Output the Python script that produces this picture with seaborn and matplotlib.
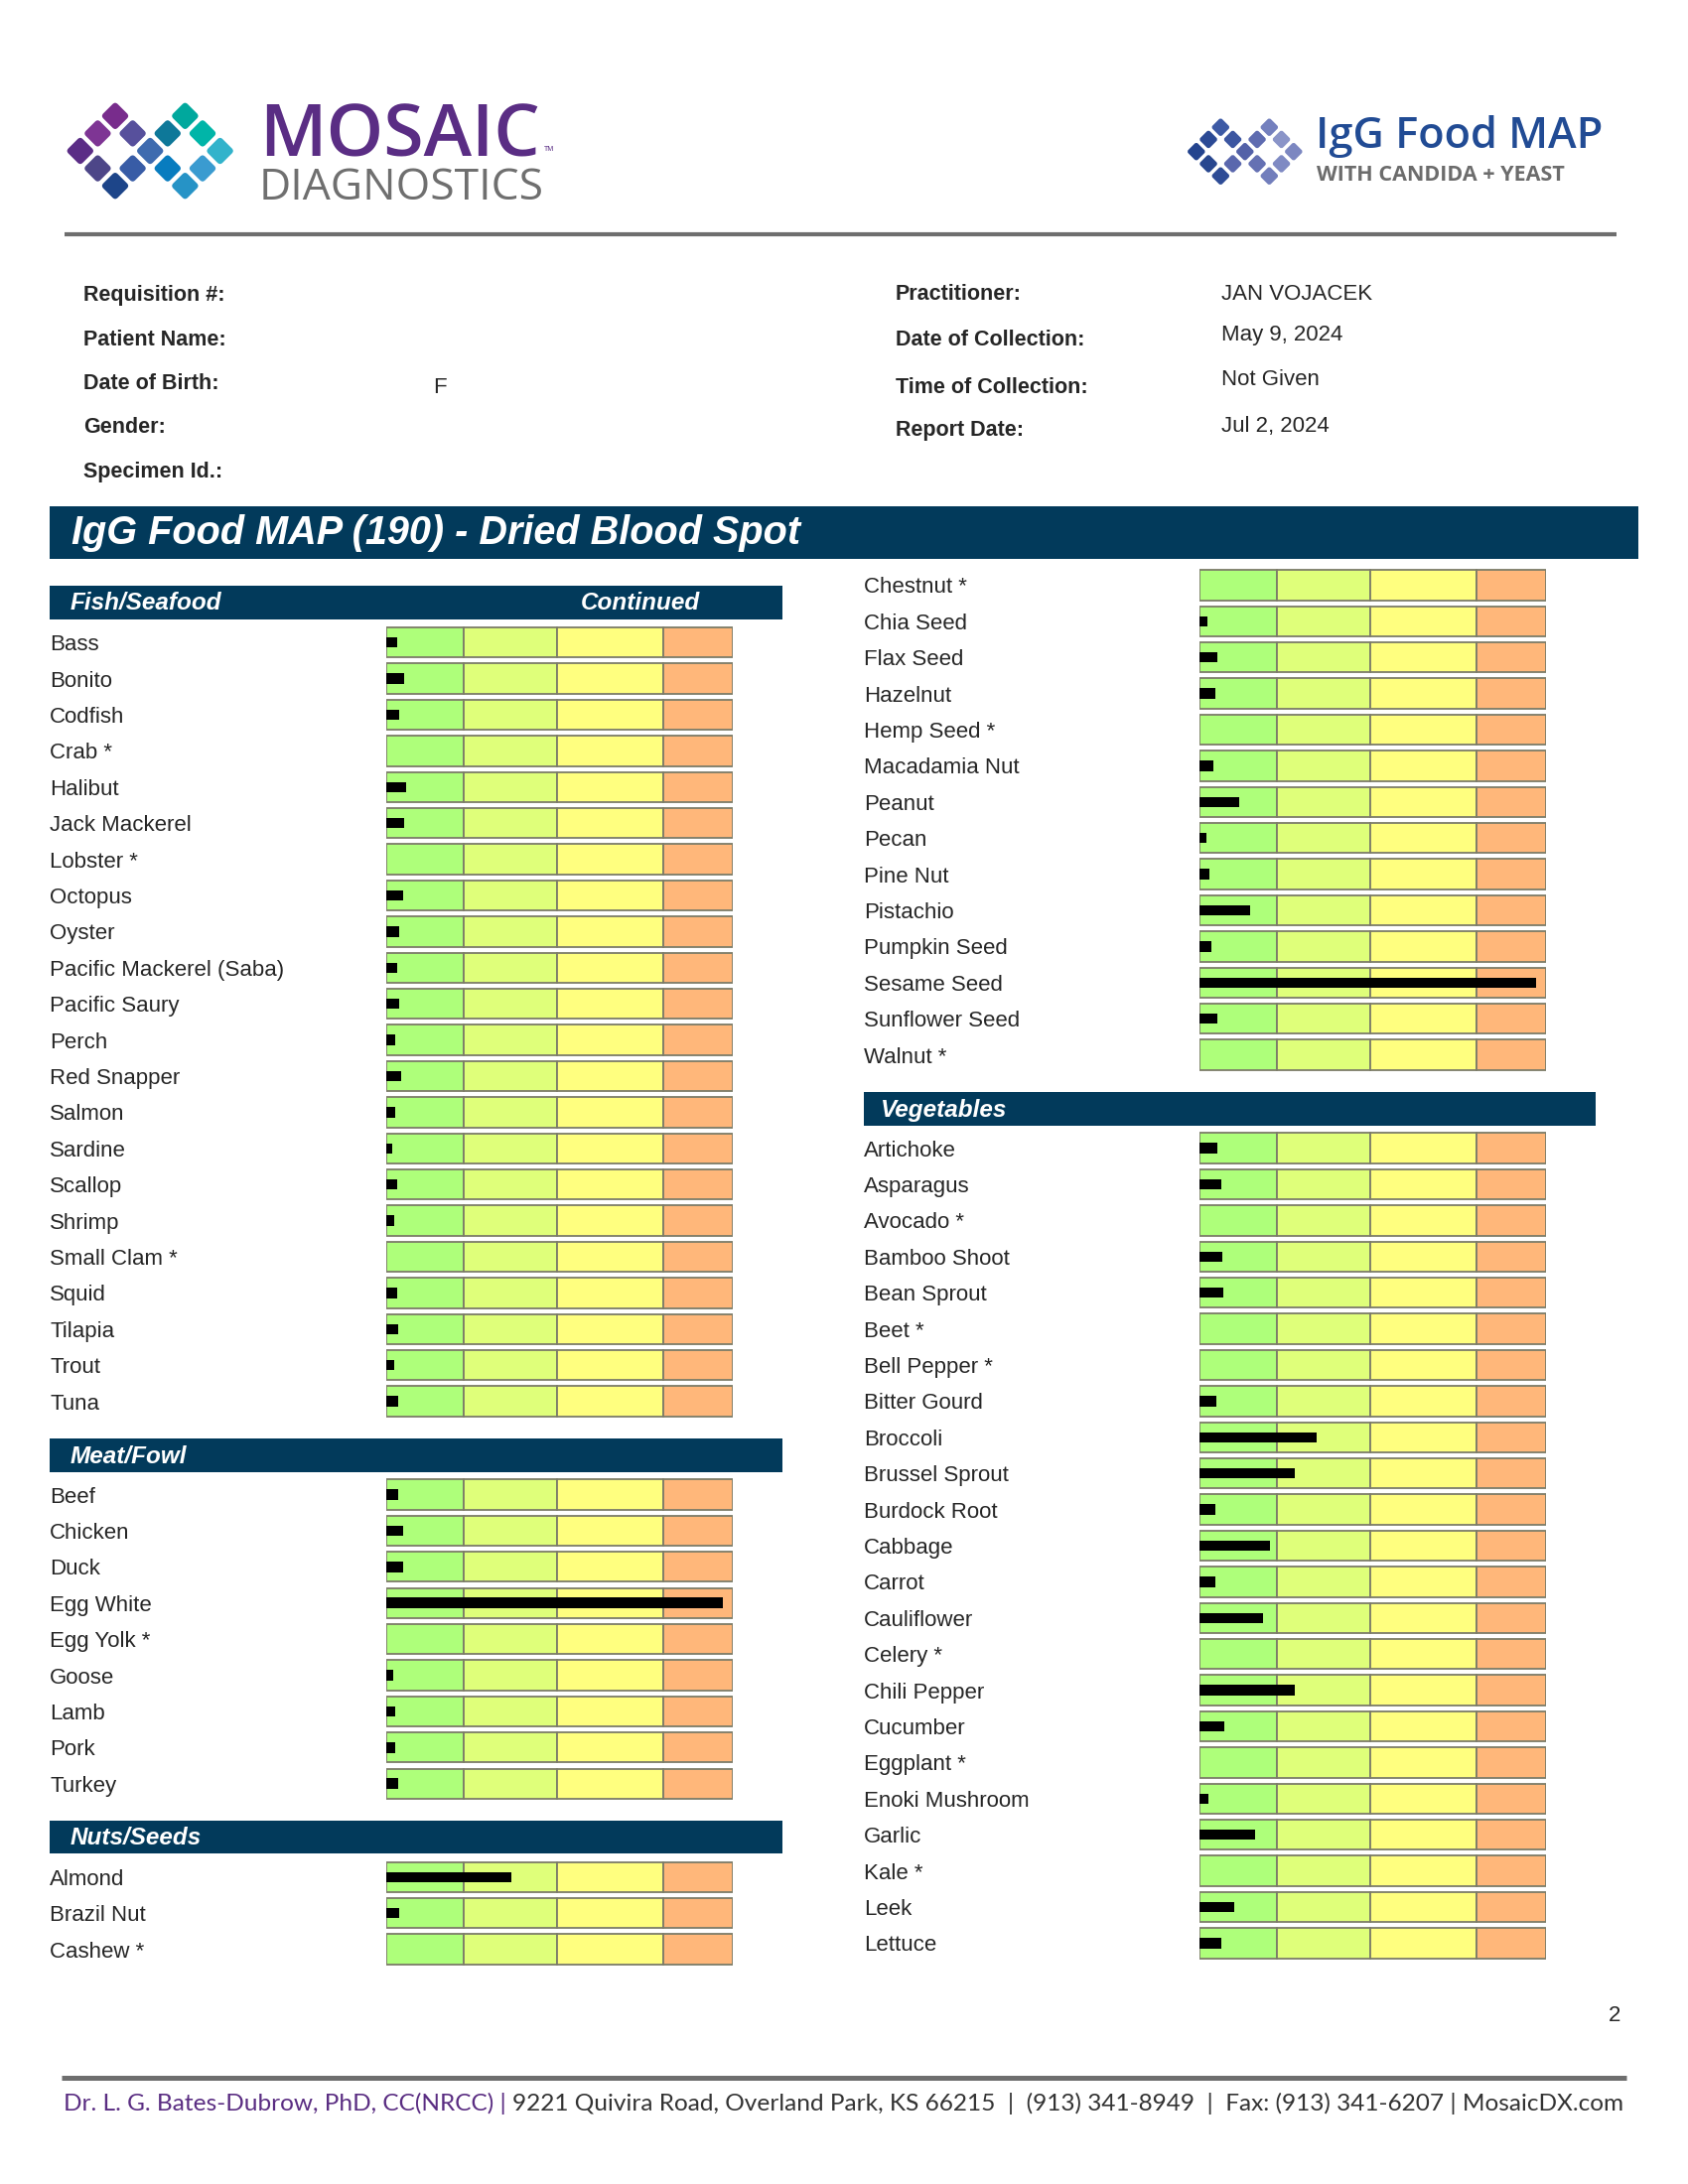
import matplotlib
matplotlib.use('Agg')
import matplotlib.pyplot as plt
from matplotlib.patches import Rectangle, FancyBboxPatch
from matplotlib.transforms import Affine2D
import seaborn as sns
import pandas as pd
import numpy as np

# ---- data (bar length as % of the reference track) ----
fish_foods = ['Bass', 'Bonito', 'Codfish', 'Crab *', 'Halibut', 'Jack Mackerel', 'Lobster *',
              'Octopus', 'Oyster', 'Pacific Mackerel (Saba)', 'Pacific Saury', 'Perch',
              'Red Snapper', 'Salmon', 'Sardine', 'Scallop', 'Shrimp', 'Small Clam *', 'Squid',
              'Tilapia', 'Trout', 'Tuna']
fish_values = [3.0, 5.0, 3.5, 0, 5.7, 5.0, 0, 4.9, 3.5, 3.0, 3.5, 2.5,
               4.2, 2.4, 1.5, 3.2, 2.3, 0, 3.2, 3.3, 2.1, 3.3]

meat_foods = ['Beef', 'Chicken', 'Duck', 'Egg White', 'Egg Yolk *', 'Goose', 'Lamb', 'Pork', 'Turkey']
meat_values = [3.3, 4.9, 4.8, 97.1, 0, 1.9, 2.4, 2.6, 3.3]

nuts_foods_a = ['Almond', 'Brazil Nut', 'Cashew *']
nuts_values_a = [35.9, 3.6, 0]

nuts_foods_b = ['Chestnut *', 'Chia Seed', 'Flax Seed', 'Hazelnut', 'Hemp Seed *', 'Macadamia Nut',
                'Peanut', 'Pecan', 'Pine Nut', 'Pistachio', 'Pumpkin Seed', 'Sesame Seed',
                'Sunflower Seed', 'Walnut *']
nuts_values_b = [0, 2.1, 5.0, 4.4, 0, 4.0, 11.3, 2.0, 2.8, 14.5, 3.3, 97.1, 5.2, 0]

veg_foods = ['Artichoke', 'Asparagus', 'Avocado *', 'Bamboo Shoot', 'Bean Sprout', 'Beet *',
             'Bell Pepper *', 'Bitter Gourd', 'Broccoli', 'Brussel Sprout', 'Burdock Root',
             'Cabbage', 'Carrot', 'Cauliflower', 'Celery *', 'Chili Pepper', 'Cucumber',
             'Eggplant *', 'Enoki Mushroom', 'Garlic', 'Kale *', 'Leek', 'Lettuce']
veg_values = [5.2, 6.2, 0, 6.5, 6.8, 0, 0, 4.7, 33.7, 27.4, 4.4, 20.2, 4.6, 18.2, 0,
              27.5, 7.2, 0, 2.5, 15.9, 0, 10.0, 6.3]

zone_edges = [0, 22.35, 49.3, 79.9, 100]
zone_colors = ['#AEFF7A', '#DFFF7A', '#FFFF7F', '#FFB77A']

info_left = ['Requisition #:', 'Patient Name:', 'Date of Birth:', 'Gender:', 'Specimen Id.:']
info_right = ['Practitioner:', 'Date of Collection:', 'Time of Collection:', 'Report Date:']
info_values = ['JAN VOJACEK', 'May 9, 2024', 'Not Given', 'Jul 2, 2024']

mosaic_colors = ['#782C8C', '#7E3594', '#57509C', '#5B2D86', '#3E6BAF', '#4D4688', '#385CA6',
                 '#1D4589', '#00A89D', '#0E7899', '#00B5A8', '#32B3CB', '#087CBF', '#3A9BD0',
                 '#2693C6']
igg_colors = ['#3D5AA5', '#2B4A95', '#3C56A1', '#24448E', '#5361A8', '#28478F', '#5A67AD',
              '#2E4C96', '#7480BE', '#5E6BB0', '#8A94C8', '#7C87C1', '#6571B3', '#7F8AC3',
              '#727EBC']

# ---- layout (pixels) ----
W, H = 1700, 2200
PITCH = 36.4
NAVY = '#023A5B'
FONT = ['Liberation Sans', 'DejaVu Sans']

sns.set_style('white')
plt.rcParams['font.family'] = FONT

fig = plt.figure(figsize=(W / 100, H / 100), dpi=100)
bg = fig.add_axes([0, 0, 1, 1])
bg.set_xlim(0, W)
bg.set_ylim(H, 0)
bg.axis('off')
renderer = fig.canvas.get_renderer()


def fit(t, width):
    w = t.get_window_extent(renderer).width
    t.set_fontsize(t.get_fontsize() * width / w)
    return t


def draw_tiles(ax, cx, cy, step, diag, colors):
    side = diag / np.sqrt(2)
    cells = [(0, -2), (-1, -1), (1, -1), (-2, 0), (2, 0), (-1, 1), (1, 1), (0, 2),
             (4, -2), (3, -1), (5, -1), (6, 0), (3, 1), (5, 1), (4, 2)]
    for (i, j), c in zip(cells, colors):
        x, y = cx + i * step, cy + j * step
        p = FancyBboxPatch((x - side / 2, y - side / 2), side, side,
                           boxstyle=f'round,pad=0,rounding_size={side * 0.18}',
                           fc=c, ec='none',
                           transform=Affine2D().rotate_deg_around(x, y, 45) + ax.transData)
        ax.add_patch(p)


# logos
draw_tiles(bg, 116, 152, 17.6, 29, mosaic_colors)
t = bg.text(261, 157, 'MOSAIC', color='#5A2D84', fontsize=50, family=['Open Sans', 'DejaVu Sans'],
            fontweight='semibold', va='baseline')
fit(t, 283)
bg.text(548, 152, 'TM', color='#5A2D84', fontsize=5, va='baseline')
t = bg.text(261, 201, 'DIAGNOSTICS', color='#6F6F6F', fontsize=30, family=['Open Sans', 'DejaVu Sans'],
            va='baseline')
fit(t, 286)

draw_tiles(bg, 1229.3, 152.7, 12.25, 19.5, igg_colors)
t = bg.text(1325, 149, 'IgG Food MAP', color='#214B94', fontsize=30, family=['Open Sans', 'DejaVu Sans'],
            fontweight='semibold', va='baseline')
fit(t, 289)
t = bg.text(1326, 182, 'WITH CANDIDA + YEAST', color='#6C6C6C', fontsize=14,
            family=['Open Sans', 'DejaVu Sans'], fontweight='bold', va='baseline')
fit(t, 252)

bg.plot([65, 1628], [236, 236], color='#6E6E6E', lw=3, solid_capstyle='butt')

# patient info
for s, y in zip(info_left, [297, 342, 387, 431, 476]):
    bg.text(84, y, s, fontsize=15.5, fontweight='bold', va='center')
bg.text(436, 390, 'F', fontsize=16, va='center')
for s, y in zip(info_right, [297, 342, 390, 434]):
    bg.text(902, y, s, fontsize=15.5, fontweight='bold', va='center')
for s, y in zip(info_values, [296, 337, 382, 430]):
    bg.text(1230, y, s, fontsize=16, va='center')

# title band
bg.add_patch(Rectangle((50, 510), 1600, 53, fc=NAVY, ec='none'))
bg.text(72, 537, 'IgG Food MAP (190) - Dried Blood Spot', color='white', fontsize=28.5,
        fontweight='bold', fontstyle='italic', va='center')

# section headers
headers = [(50, 788, 590, 624, 'Fish/Seafood', 71),
           (50, 788, 1449, 1483, 'Meat/Fowl', 71),
           (50, 788, 1834, 1867, 'Nuts/Seeds', 71),
           (870, 1607, 1100, 1134, 'Vegetables', 887)]
for x0, x1, y0, y1, name, tx in headers:
    bg.add_patch(Rectangle((x0, y0), x1 - x0, y1 - y0, fc=NAVY, ec='none'))
    bg.text(tx, (y0 + y1) / 2 + 1, name, color='white', fontsize=17.5, fontweight='bold',
            fontstyle='italic', va='center')
bg.text(585, 608, 'Continued', color='white', fontsize=17.5, fontweight='bold',
        fontstyle='italic', va='center')


def food_panel(foods, values, x0, x1, c0, label_x):
    n = len(foods)
    top = c0 - PITCH / 2
    bottom = c0 + (n - 0.5) * PITCH
    ax = fig.add_axes([x0 / W, 1 - bottom / H, (x1 - x0) / W, (bottom - top) / H])
    df = pd.DataFrame({'food': foods, 'value': values})
    sns.barplot(data=df, x='value', y='food', orient='h', color='black', saturation=1,
                width=0.29, linewidth=0, errorbar=None, ax=ax, zorder=3)
    pos = np.arange(n)
    for lo, hi, c in zip(zone_edges[:-1], zone_edges[1:], zone_colors):
        ax.barh(pos, hi - lo, left=lo, height=0.83, color=c, edgecolor='#7C7C68',
                linewidth=1.3, zorder=1)
    ax.set_xlim(0, 100)
    ax.set_ylim(n - 0.5, -0.5)
    ax.set_xlabel('')
    ax.set_ylabel('')
    ax.set_xticks([])
    ax.patch.set_alpha(0)
    for sp in ax.spines.values():
        sp.set_visible(False)
    ax.tick_params(axis='y', length=0, pad=(x0 - label_x) * 0.72, labelsize=16)
    for lbl in ax.get_yticklabels():
        lbl.set_horizontalalignment('left')
    return ax


food_panel(fish_foods, fish_values, 389.3, 738.3, 647.2, 50)
food_panel(meat_foods, meat_values, 389.3, 738.3, 1505.5, 50)
food_panel(nuts_foods_a, nuts_values_a, 389.3, 738.3, 1890.8, 50)
food_panel(nuts_foods_b, nuts_values_b, 1208.3, 1557.3, 589.4, 870)
food_panel(veg_foods, veg_values, 1208.3, 1557.3, 1156.6, 870)

# footer
bg.text(1626, 2031, '2', fontsize=16, va='center', ha='center')
bg.plot([62, 1638], [2093, 2093], color='#6E6E6E', lw=3.6, solid_capstyle='butt')
part1 = 'Dr. L. G. Bates-Dubrow, PhD, CC(NRCC) | '
part2 = '9221 Quivira Road, Overland Park, KS 66215  |  (913) 341-8949  |  Fax: (913) 341-6207 | MosaicDX.com'
foot_font = ['Lato', 'DejaVu Sans']
tmp = bg.text(0, 0, part1 + part2, fontsize=15, family=foot_font)
fit(tmp, 1570)
fs = tmp.get_fontsize()
tmp.remove()
t1 = bg.text(64, 2119, part1, fontsize=fs, family=foot_font, color='#5A2D82', va='center')
x_end = t1.get_window_extent(renderer).x1
bg.text(x_end, 2119, part2, fontsize=fs, family=foot_font, color='#333333', va='center')

fig.savefig('out.png', dpi=100)
